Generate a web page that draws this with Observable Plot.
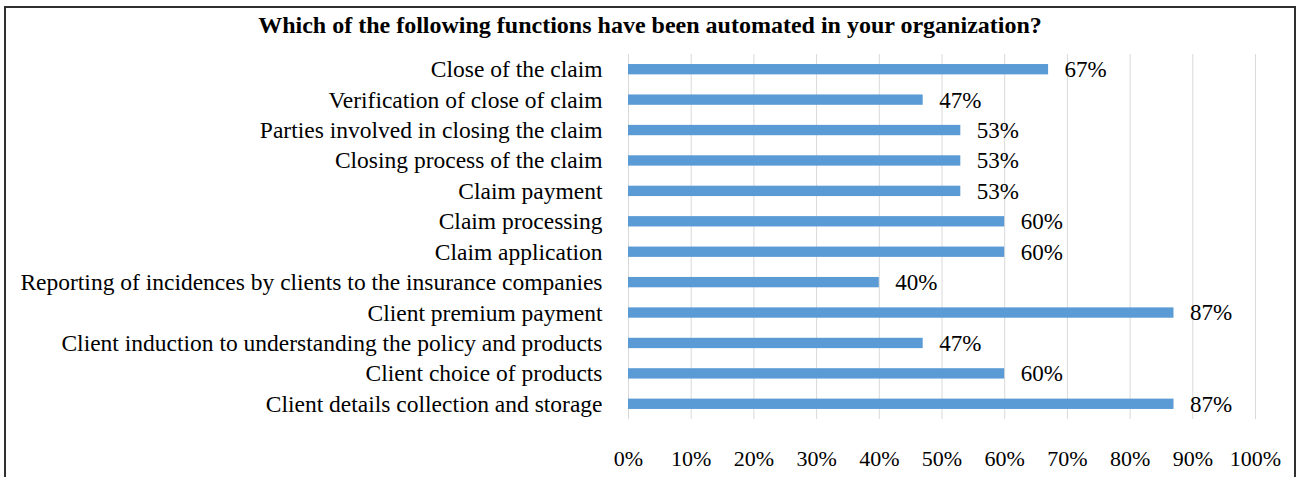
<!DOCTYPE html>
<html>
<head>
<meta charset="utf-8">
<script src="https://cdn.jsdelivr.net/npm/d3@7"></script>
<script src="https://cdn.jsdelivr.net/npm/@observablehq/plot@0.6"></script>
<style>
  html, body { margin: 0; padding: 0; background: #fff; }
  #frame {
    position: absolute; left: 4px; top: 6px; width: 1288px; height: 480px;
    border: 2px solid #303030; border-bottom: none; background: #fff;
  }
  #title {
    height: 38px; line-height: 34px; text-align: center;
    font-family: "Liberation Serif", "Times New Roman", serif; font-weight: bold; font-size: 24px; color: #000;
  }
  #chart svg { display: block; }
</style>
</head>
<body>
<div id="frame">
  <div id="title">Which of the following functions have been automated in your organization?</div>
  <div id="chart"></div>
</div>
<script>
const functions = [
  "Close of the claim",
  "Verification of close of claim",
  "Parties involved in closing the claim",
  "Closing process of the claim",
  "Claim payment",
  "Claim processing",
  "Claim application",
  "Reporting of incidences by clients to the insurance companies",
  "Client premium payment",
  "Client induction to understanding the policy and products",
  "Client choice of products",
  "Client details collection and storage"
];
const percentages = [67, 47, 53, 53, 53, 60, 60, 40, 87, 47, 60, 87];
const xTicks = [0, 10, 20, 30, 40, 50, 60, 70, 80, 90, 100];

const data = functions.map((f, i) => ({ fn: f, value: percentages[i] }));

const chart = Plot.plot({
  width: 1288,
  height: 431,
  marginTop: 8,
  marginBottom: 58,
  marginLeft: 622,
  marginRight: 39,
  style: { fontFamily: "'Liberation Serif', 'Times New Roman', serif", fontSize: "23px", color: "#000", background: "#fff" },
  x: { domain: [0, 100], ticks: xTicks, tickFormat: d => d + "%", label: null },
  y: { domain: functions, label: null, paddingInner: 0.66, paddingOuter: 0.33, round: false },
  marks: [
    Plot.gridX(xTicks, { stroke: "#d9d9d9", strokeOpacity: 1, strokeWidth: 1 }),
    Plot.axisX({ ticks: xTicks, tickFormat: d => d + "%", tickSize: 0, tickPadding: 31, label: null, fontSize: 22 }),
    Plot.axisY({ tickSize: 0, tickPadding: 26, label: null, fontSize: 23.5 }),
    Plot.barX(data, { y: "fn", x: "value", fill: "#5b9bd5" }),
    Plot.text(data, { y: "fn", x: "value", text: d => d.value + "%", textAnchor: "start", dx: 16, fontSize: 23, fill: "#000" })
  ]
});
document.getElementById("chart").appendChild(chart);
</script>
</body>
</html>
